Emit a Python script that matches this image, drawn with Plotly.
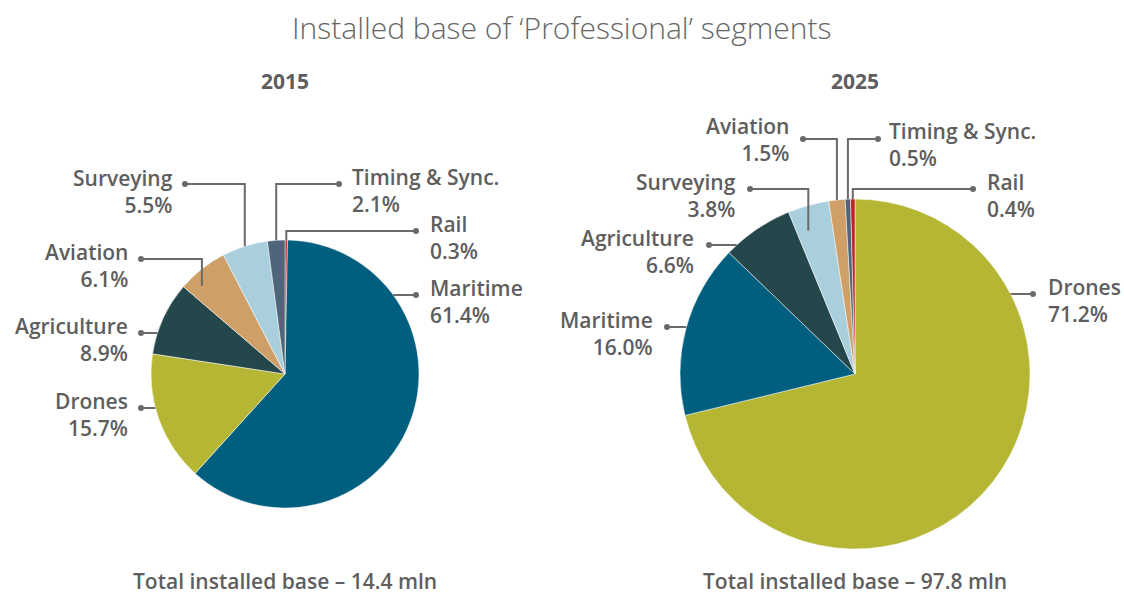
import math

import plotly.graph_objects as go

W, H = 1124, 596

segments_2015 = ["Rail", "Maritime", "Drones", "Agriculture", "Aviation", "Surveying", "Timing & Sync."]
shares_2015 = [0.3, 61.4, 15.7, 8.9, 6.1, 5.5, 2.1]
total_2015 = 14.4

segments_2025 = ["Drones", "Maritime", "Agriculture", "Surveying", "Aviation", "Timing & Sync.", "Rail"]
shares_2025 = [71.2, 16.0, 6.6, 3.8, 1.5, 0.5, 0.4]
total_2025 = 97.8

colors = {
    "Maritime": "#005e7e",
    "Drones": "#b5b634",
    "Agriculture": "#23474b",
    "Aviation": "#cf9f68",
    "Surveying": "#a9cfdc",
    "Timing & Sync.": "#4f6579",
    "Rail": "#be2228",
}

TXT = "#5e5e5e"
LINE = "#6a6a6a"
FONT = "Open Sans"
LBL = 21

# pie placement in pixels: centre x, centre y, radius
pies = [
    dict(year="2015", names=segments_2015, vals=shares_2015, total=total_2015, cx=285, cy=374, r=134),
    dict(year="2025", names=segments_2025, vals=shares_2025, total=total_2025, cx=855, cy=374, r=175),
]

# label layout: side, dot x, dot y, text x, first baseline, leader kind ("h" or "v"), depth into slice
labels = {
    "2015": {
        "Surveying": ("l", 185, 184, 175, 185, "v", 1.0),
        "Aviation": ("l", 141, 259, 130, 259, "v", 0.84),
        "Agriculture": ("l", 141, 333, 130, 333, "h", 1.0),
        "Drones": ("l", 141, 408, 130, 408, "h", 1.0),
        "Timing & Sync.": ("r", 339, 184, 350, 184, "v", 1.0),
        "Rail": ("r", 416, 231, 428, 231, "v", 1.0),
        "Maritime": ("r", 416, 295, 428, 295, "h", 1.0),
    },
    "2025": {
        "Aviation": ("l", 803, 139, 791, 133, "v", 1.0),
        "Timing & Sync.": ("r", 878, 139, 887, 138, "v", 1.0),
        "Surveying": ("l", 750, 189, 738, 189, "v", 0.85),
        "Rail": ("r", 973, 189, 985, 189, "v", 1.0),
        "Agriculture": ("l", 709, 245, 696, 245, "h", 1.0),
        "Maritime": ("l", 667, 327, 655, 327, "h", 1.0),
        "Drones": ("r", 1033, 294, 1046, 294, "h", 1.0),
    },
}


def text_at(x, baseline, text, size, weight, anchor="center", color=TXT, lines=1):
    # place text so that its first baseline sits near the given pixel row
    mid = baseline - 0.36 * size + (lines - 1) * 1.3 * size / 2
    return dict(
        x=x, y=mid, xref="x", yref="y", text=text, showarrow=False,
        xanchor=anchor, yanchor="middle", align=anchor if anchor != "center" else "center",
        font=dict(family=FONT, size=size, color=color, weight=weight),
    )


fig = go.Figure()
shapes = []
annotations = []

for p in pies:
    cx, cy, r = p["cx"], p["cy"], p["r"]
    fig.add_trace(
        go.Pie(
            labels=p["names"],
            values=p["vals"],
            marker=dict(colors=[colors[n] for n in p["names"]], line=dict(color="white", width=0.5)),
            sort=False,
            direction="clockwise",
            rotation=0,
            textinfo="none",
            hoverinfo="label+percent",
            showlegend=False,
            domain=dict(
                x=[(cx - r) / W, (cx + r) / W],
                y=[(H - cy - r) / H, (H - cy + r) / H],
            ),
        )
    )

    tot = sum(p["vals"])
    cum = 0
    for name, v in zip(p["names"], p["vals"]):
        mid = (cum + v / 2) / tot * 2 * math.pi
        cum += v
        side, dx, dy, tx, base, kind, depth = labels[p["year"]][name]
        if kind == "v":
            ex = cx + r * math.sin(mid)
            ey = cy - r * depth * math.cos(mid)
            pts = [(dx, dy), (ex, dy), (ex, ey)]
        else:
            off = math.sqrt(max(r * r - (dy - cy) ** 2, 0))
            ex = cx + off if side == "r" else cx - off
            pts = [(dx, dy), (ex, dy)]
        path = "M " + " L ".join(f"{x:.1f},{y:.1f}" for x, y in pts)
        shapes.append(dict(type="path", path=path, xref="x", yref="y",
                           line=dict(color=LINE, width=2), layer="above"))
        shapes.append(dict(type="circle", xref="x", yref="y", x0=dx - 3, x1=dx + 3,
                           y0=dy - 3, y1=dy + 3, fillcolor=LINE, line=dict(width=0), layer="above"))
        anchor = "right" if side == "l" else "left"
        annotations.append(text_at(tx, base, f"{name}<br>{v:.1f}%", LBL, 600, anchor, lines=2))

    annotations.append(text_at(cx, 89, p["year"], 21, 700))
    annotations.append(text_at(cx, 589, f"Total installed base \u2013 {p['total']} mln", 21, 600))

annotations.append(text_at(562, 38, "Installed base of \u2018Professional\u2019 segments", 30, 300,
                           color="#666666"))

# invisible pixel-space axes used to place labels and leader lines
fig.add_trace(go.Scatter(x=[0, W], y=[0, H], mode="markers", marker=dict(opacity=0),
                         hoverinfo="skip", showlegend=False))

fig.update_layout(
    width=W,
    height=H,
    margin=dict(l=0, r=0, t=0, b=0),
    paper_bgcolor="white",
    plot_bgcolor="rgba(0,0,0,0)",
    xaxis=dict(range=[0, W], visible=False, fixedrange=True),
    yaxis=dict(range=[H, 0], visible=False, fixedrange=True),
    shapes=shapes,
    annotations=annotations,
)

fig.write_html(
    "out.html",
    config={"displayModeBar": False},
    post_script="document.body.style.margin = '0';",
)
